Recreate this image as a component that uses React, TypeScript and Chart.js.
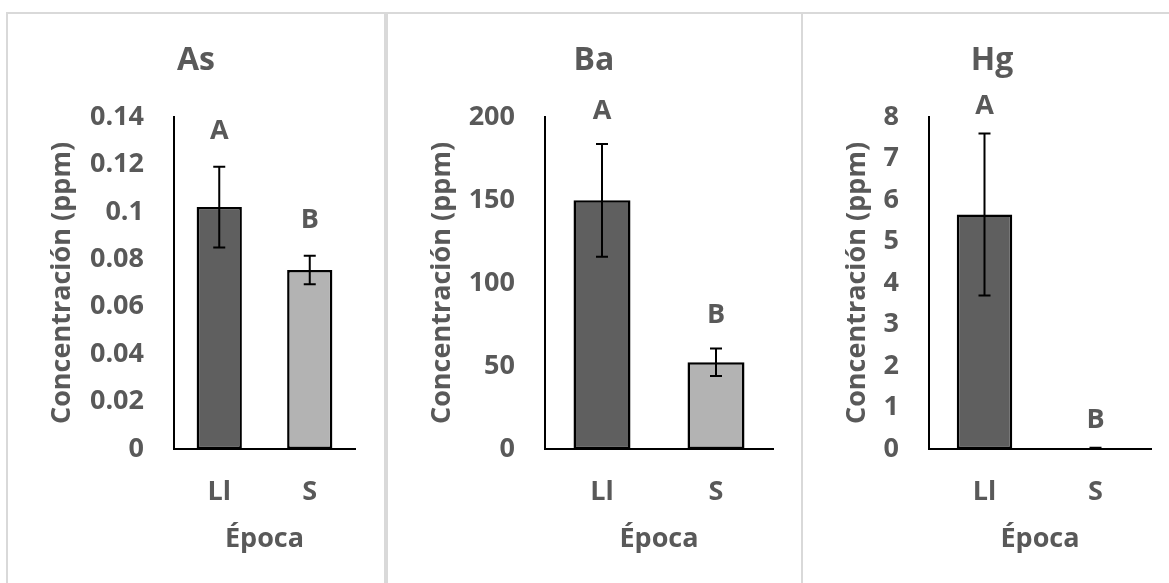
import React, { useEffect, useRef } from 'react';
import { Chart, registerables } from 'chart.js';

Chart.register(...registerables);

// Season categories and significance letters shared by all three panels
const categories = ['Ll', 'S'];
const letters = ['A', 'B'];

// Arsenic (ppm): mean and error per season
const asMeans = [0.102, 0.0755];
const asErrors = [0.017, 0.006];

// Barium (ppm)
const baMeans = [149.8, 52.3];
const baErrors = [34, 8.3];

// Mercury (ppm)
const hgMeans = [5.65, 0.02];
const hgErrors = [1.95, 0.01];

// Axis ranges: [max, step]
const asAxis = [0.14, 0.02];
const baAxis = [200, 50];
const hgAxis = [8, 1];

const TEXT = '#595959';
const FAMILY = '"Open Sans"';
const FILLS = ['#5f5f5f', '#b3b3b3'];
const H = 583;
const PLOT_TOP = 117;
const PLOT_BOTTOM = 449;

type Panel = {
  title: string;
  means: number[];
  errors: number[];
  axis: number[];
  left: number;
  width: number;
  axisLeft: number;
  axisRight: number;
  titleCenter: number;
  letterGap: number;
};

const panels: Panel[] = [
  { title: 'As', means: asMeans, errors: asErrors, axis: asAxis, left: 8, width: 376, axisLeft: 174, axisRight: 355, titleCenter: 196, letterGap: 28 },
  { title: 'Ba', means: baMeans, errors: baErrors, axis: baAxis, left: 388, width: 413, axisLeft: 545, axisRight: 773, titleCenter: 594, letterGap: 25 },
  { title: 'Hg', means: hgMeans, errors: hgErrors, axis: hgAxis, left: 803, width: 366, axisLeft: 929, axisRight: 1151, titleCenter: 992, letterGap: 20 },
];

const fmt = (v: number | string) => String(Number(Number(v).toFixed(6)));

function marksPlugin(p: Panel) {
  return {
    id: 'marks' + p.title,
    afterDatasetsDraw(chart: any) {
      const ctx = chart.ctx as CanvasRenderingContext2D;
      const y = chart.scales.y;
      const meta = chart.getDatasetMeta(0);
      meta.data.forEach((bar: any, i: number) => {
        const x = bar.x;
        const top = y.getPixelForValue(p.means[i] + p.errors[i]);
        const bot = y.getPixelForValue(Math.max(0, p.means[i] - p.errors[i]));
        ctx.save();
        ctx.strokeStyle = '#000';
        ctx.lineWidth = 2;
        ctx.beginPath();
        ctx.moveTo(x, top);
        ctx.lineTo(x, bot);
        ctx.moveTo(x - 6, top);
        ctx.lineTo(x + 6, top);
        ctx.moveTo(x - 6, bot);
        ctx.lineTo(x + 6, bot);
        ctx.stroke();
        ctx.fillStyle = TEXT;
        ctx.font = `bold 27px ${FAMILY}`;
        ctx.textAlign = 'center';
        ctx.textBaseline = 'alphabetic';
        ctx.fillText(letters[i], x, top - p.letterGap);
        ctx.restore();
      });
    },
    afterDraw(chart: any) {
      const ctx = chart.ctx as CanvasRenderingContext2D;
      ctx.save();
      ctx.fillStyle = TEXT;
      ctx.font = `bold 32px ${FAMILY}`;
      ctx.textAlign = 'center';
      ctx.textBaseline = 'alphabetic';
      ctx.fillText(p.title, p.titleCenter - p.left, 70);
      ctx.restore();
    },
  };
}

function makeConfig(p: Panel): any {
  const font = { family: FAMILY, size: 27, weight: 'bold' as const, lineHeight: 1.2 };
  const border = { display: true, color: '#000', width: 2 };
  return {
    type: 'bar',
    data: {
      labels: categories,
      datasets: [
        {
          data: p.means,
          backgroundColor: FILLS,
          borderColor: '#000',
          borderWidth: 2.5,
          borderSkipped: false,
          barPercentage: 0.5,
          categoryPercentage: 1,
        },
      ],
    },
    options: {
      responsive: false,
      animation: false,
      layout: {
        padding: { top: PLOT_TOP, left: 0, bottom: 0, right: p.width - (p.axisRight - p.left) },
      },
      plugins: {
        legend: { display: false },
        tooltip: { enabled: false },
        title: { display: false },
      },
      scales: {
        x: {
          grid: { display: false, drawTicks: false },
          border,
          ticks: { color: TEXT, font, padding: 27 },
          title: { display: true, text: 'Época', color: TEXT, font, padding: { top: 0, bottom: 27 } },
          afterFit: (s: any) => {
            s.height = H - PLOT_BOTTOM;
          },
        },
        y: {
          min: 0,
          max: p.axis[0],
          grid: { display: false, drawTicks: false },
          border,
          ticks: { stepSize: p.axis[1], color: TEXT, font, padding: 30, callback: (v: any) => fmt(v) },
          title: {
            display: true,
            text: 'Concentración (ppm)',
            color: TEXT,
            font,
            padding: { top: 38, bottom: 0 },
          },
          afterFit: (s: any) => {
            s.width = p.axisLeft - p.left;
          },
        },
      },
    },
    plugins: [marksPlugin(p)],
  };
}

function PanelChart({ p }: { p: Panel }) {
  const ref = useRef<HTMLCanvasElement>(null);
  useEffect(() => {
    let chart: Chart | null = null;
    let cancelled = false;
    const fonts = (document as any).fonts;
    const ready = fonts
      ? Promise.all([fonts.load(`bold 27px ${FAMILY}`), fonts.load(`bold 32px ${FAMILY}`)]).catch(() => null)
      : Promise.resolve(null);
    ready.then(() => {
      if (cancelled || !ref.current) return;
      chart = new Chart(ref.current, makeConfig(p));
    });
    return () => {
      cancelled = true;
      if (chart) chart.destroy();
    };
  }, [p]);
  return (
    <canvas
      ref={ref}
      width={p.width}
      height={H}
      style={{ position: 'absolute', left: p.left, top: 0, width: p.width, height: H }}
    />
  );
}

export default function App() {
  const line = '#d9d9d9';
  return (
    <div style={{ position: 'absolute', left: 0, top: 0, width: 1169, height: H, background: '#fff', overflow: 'hidden' }}>
      <div style={{ position: 'absolute', left: 6, top: 12, width: 1163, height: 2, background: line }} />
      <div style={{ position: 'absolute', left: 6, top: 12, width: 2, height: H - 12, background: line }} />
      <div style={{ position: 'absolute', left: 384, top: 12, width: 4, height: H - 12, background: line }} />
      <div style={{ position: 'absolute', left: 801, top: 12, width: 2, height: H - 12, background: line }} />
      {panels.map((p) => (
        <PanelChart key={p.title} p={p} />
      ))}
    </div>
  );
}
